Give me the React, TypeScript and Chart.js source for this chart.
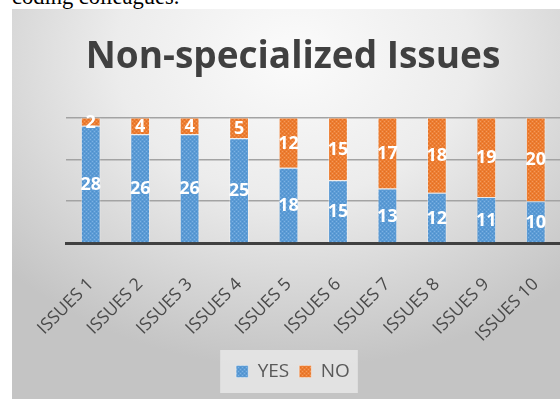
import React, { useEffect, useRef } from "react";
import { Chart, registerables } from "chart.js";

Chart.register(...registerables);

const categories = ["ISSUES 1", "ISSUES 2", "ISSUES 3", "ISSUES 4", "ISSUES 5", "ISSUES 6", "ISSUES 7", "ISSUES 8", "ISSUES 9", "ISSUES 10"];
const yesValues = [28, 26, 26, 25, 18, 15, 13, 12, 11, 10];
const noValues = [2, 4, 4, 5, 12, 15, 17, 18, 19, 20];
const seriesNames = ["YES", "NO"];
const titleText = "Non-specialized Issues";
const yMax = 30;
const yStep = 10;

function makePattern(base: string, light: string, dark: string): CanvasPattern | string {
  const c = document.createElement("canvas");
  c.width = 4;
  c.height = 4;
  const g = c.getContext("2d");
  if (!g) return base;
  g.fillStyle = base;
  g.fillRect(0, 0, 4, 4);
  g.fillStyle = light;
  g.fillRect(0, 0, 1, 1);
  g.fillRect(2, 2, 1, 1);
  g.fillStyle = dark;
  g.fillRect(2, 0, 1, 1);
  g.fillRect(0, 2, 1, 1);
  const p = g.createPattern(c, "repeat");
  return p || base;
}

const valueLabelPlugin = {
  id: "valueLabels",
  afterDatasetsDraw(chart: any) {
    const ctx = chart.ctx;
    ctx.save();
    ctx.fillStyle = "#ffffff";
    ctx.font = "bold 18px 'Open Sans'";
    ctx.textAlign = "center";
    ctx.textBaseline = "middle";
    chart.data.datasets.forEach((ds: any, di: number) => {
      const meta = chart.getDatasetMeta(di);
      meta.data.forEach((el: any, i: number) => {
        const { x, y, base } = el.getProps(["x", "y", "base"], true);
        ctx.fillText(String(ds.data[i]), x, (y + base) / 2 + 1);
      });
    });
    ctx.restore();
  },
};

const legendBgPlugin = {
  id: "legendBg",
  beforeDraw(chart: any) {
    const lg = chart.legend;
    if (!lg || !lg.legendHitBoxes || !lg.legendHitBoxes.length) return;
    const boxes = lg.legendHitBoxes;
    let minX = Infinity, maxX = -Infinity, minY = Infinity, maxY = -Infinity;
    boxes.forEach((b: any) => {
      minX = Math.min(minX, b.left);
      maxX = Math.max(maxX, b.left + b.width);
      minY = Math.min(minY, b.top);
      maxY = Math.max(maxY, b.top + b.height);
    });
    const ctx = chart.ctx;
    ctx.save();
    ctx.fillStyle = "rgba(230,230,230,0.9)";
    ctx.fillRect(minX - 16, minY - 12, maxX - minX + 24, maxY - minY + 24);
    ctx.restore();
  },
};

export default function App() {
  const ref = useRef<HTMLCanvasElement | null>(null);
  useEffect(() => {
    if (!ref.current) return;
    const blue = makePattern("#5B9BD5", "#7DB1E2", "#4F8FCB");
    const orange = makePattern("#ED7D31", "#F39A5C", "#E06F25");
    const chart = new Chart(ref.current, {
      type: "bar",
      data: {
        labels: categories,
        datasets: [
          {
            label: seriesNames[0],
            data: yesValues,
            backgroundColor: blue as any,
            borderColor: "rgba(255,255,255,0.35)",
            borderWidth: 1,
            barPercentage: 0.4,
            categoryPercentage: 1,
          },
          {
            label: seriesNames[1],
            data: noValues,
            backgroundColor: orange as any,
            borderColor: "rgba(255,255,255,0.35)",
            borderWidth: 1,
            barPercentage: 0.4,
            categoryPercentage: 1,
          },
        ],
      },
      options: {
        responsive: false,
        animation: false,
        layout: { padding: { left: 8, right: 8, top: 0, bottom: 8 } },
        plugins: {
          title: {
            display: true,
            text: titleText,
            color: "#404040",
            font: { family: "'Open Sans'", size: 37, weight: "bold" },
            padding: { top: 26, bottom: 38 },
          },
          legend: {
            position: "bottom",
            labels: {
              boxWidth: 12,
              boxHeight: 12,
              color: "#595959",
              font: { family: "'Open Sans'", size: 19 },
              padding: 10,
            },
          },
          tooltip: { enabled: false },
        },
        scales: {
          x: {
            stacked: true,
            grid: { display: false },
            border: { display: true, color: "#404040", width: 3 },
            afterFit: (scale: any) => {
              scale.height = 109;
            },
            ticks: {
              color: "#4a4a4a",
              font: { family: "'Open Sans'", size: 17.5 },
              maxRotation: 45,
              minRotation: 45,
              padding: 23,
            },
          },
          y: {
            stacked: true,
            min: 0,
            max: yMax,
            afterFit: (scale: any) => {
              scale.width = 46;
            },
            ticks: { display: false, stepSize: yStep },
            grid: { color: "#a3a3a3", lineWidth: 1.5, drawTicks: false },
            border: { display: false },
          },
        },
      },
      plugins: [valueLabelPlugin, legendBgPlugin],
    });
    return () => chart.destroy();
  }, []);

  return (
    <div style={{ position: "absolute", left: 0, top: 0, width: 560, height: 403, overflow: "hidden", background: "#ffffff" }}>
      <div
        style={{
          position: "absolute",
          left: 12,
          top: -14,
          fontFamily: "'Liberation Serif', 'Times New Roman', serif",
          fontSize: 22.5,
          lineHeight: 1,
          color: "#000",
          whiteSpace: "nowrap",
        }}
      >
        coding colleagues.
      </div>
      <div
        style={{
          position: "absolute",
          left: 12,
          top: 9,
          width: 562,
          height: 390,
          background: "radial-gradient(ellipse 70% 80% at 50% 12%, #fbfbfb 0%, #ececec 45%, #d6d6d6 75%, #c4c4c4 100%)",
        }}
      >
        <canvas ref={ref} width={562} height={390} style={{ display: "block" }} />
      </div>
    </div>
  );
}
